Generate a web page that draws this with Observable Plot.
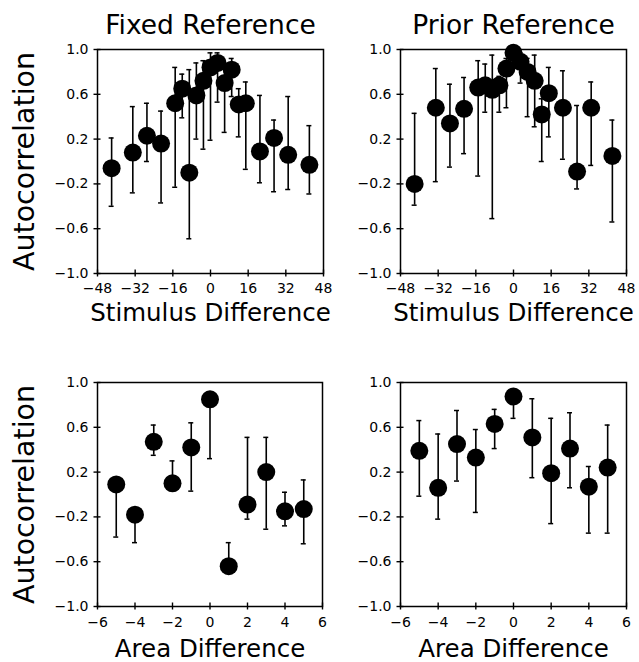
<!DOCTYPE html>
<html><head><meta charset="utf-8">
<script src="https://cdn.jsdelivr.net/npm/d3@7"></script>
<script src="https://cdn.jsdelivr.net/npm/@observablehq/plot@0.6"></script>
<style>
html,body{margin:0;padding:0;background:#fff;}
#root{position:relative;width:639px;height:662px;overflow:hidden;}
#root svg{position:absolute;max-width:none;background:transparent;}
</style></head><body><div id="root"></div>
<script>
// ---- data ----
const stimX = [-42,-33,-27,-21,-15,-12,-9,-6,-3,0,3,6,9,12,15,21,27,33,42];
const fixedStimR  = [-0.06,0.08,0.23,0.16,0.52,0.65,-0.10,0.59,0.72,0.84,0.88,0.70,0.82,0.51,0.52,0.09,0.21,0.06,-0.03];
const fixedStimHi = [0.21,0.49,0.52,0.45,0.84,0.78,0.82,0.88,0.90,0.97,0.97,0.86,0.92,0.65,0.71,0.59,0.37,0.58,0.32];
const fixedStimLo = [-0.40,-0.28,0.00,-0.37,-0.23,0.39,-0.69,0.20,0.11,0.19,0.53,0.26,0.58,0.22,-0.07,-0.19,-0.27,-0.25,-0.29];

const priorStimR  = [-0.20,0.48,0.34,0.47,0.66,0.68,0.64,0.68,0.83,0.97,0.89,0.80,0.72,0.42,0.61,0.48,-0.09,0.48,0.05];
const priorStimHi = [0.43,0.83,0.69,0.75,0.90,0.87,0.95,0.76,0.92,1.00,0.97,0.92,0.95,0.56,0.84,0.81,0.50,0.71,0.37];
const priorStimLo = [-0.39,-0.18,-0.05,0.07,-0.13,0.44,-0.51,0.44,0.48,0.85,0.70,0.40,0.31,0.00,0.22,0.02,-0.245,-0.035,-0.54];

const areaX = [-5,-4,-3,-2,-1,0,1,2,3,4,5];
const fixedAreaR  = [0.09,-0.18,0.47,0.10,0.42,0.85,-0.64,-0.09,0.20,-0.15,-0.13];
const fixedAreaHi = [0.12,-0.15,0.62,0.30,0.64,0.88,-0.43,0.51,0.51,0.02,0.13];
const fixedAreaLo = [-0.38,-0.43,0.35,0.08,0.03,0.32,-0.66,-0.22,-0.31,-0.28,-0.44];

const priorAreaR  = [0.39,0.06,0.45,0.33,0.63,0.875,0.51,0.19,0.41,0.07,0.24];
const priorAreaHi = [0.66,0.54,0.75,0.58,0.76,0.90,0.855,0.68,0.73,0.25,0.62];
const priorAreaLo = [-0.015,-0.22,0.12,-0.16,0.41,0.68,0.15,-0.26,0.06,-0.345,-0.345];

const stimTicks = [-48,-32,-16,0,16,32,48];
const areaTicks = [-6,-4,-2,0,2,4,6];
const rTicks = [-1.0,-0.6,-0.2,0.2,0.6,1.0];

const titles = ["Fixed Reference", "Prior Reference"];
const xLabels = ["Stimulus Difference", "Area Difference"];
const yLabel = "Autocorrelation";

// ---- drawing ----
const FONT = "DejaVu Sans";
function panel(o) {
  const data = o.xs.map((x, i) => ({x, r: o.r[i], hi: o.hi[i], lo: o.lo[i]}));
  const xd = [o.ticks[0], o.ticks[o.ticks.length - 1]];
  const marks = [
    Plot.ruleX(data, {x: "x", y1: "lo", y2: "hi", stroke: "black", strokeWidth: 1.6}),
    Plot.ruleY(data, {y: "hi", x1: "x", x2: "x", insetLeft: -2.5, insetRight: -2.5, stroke: "black", strokeWidth: 1.5}),
    Plot.ruleY(data, {y: "lo", x1: "x", x2: "x", insetLeft: -2.5, insetRight: -2.5, stroke: "black", strokeWidth: 1.5}),
    Plot.dot(data, {x: "x", y: "r", r: 9, fill: "black", stroke: "none"}),
    Plot.frame({stroke: "black", strokeWidth: 1.5}),
    Plot.ruleX(o.ticks, {x: d => d, y1: -1, y2: -1, insetTop: -3.5, insetBottom: -3.5, stroke: "black", strokeWidth: 1.4}),
    Plot.ruleY(rTicks, {y: d => d, x1: xd[0], x2: xd[0], insetLeft: -3.5, insetRight: -3.5, stroke: "black", strokeWidth: 1.4}),
    Plot.axisX(o.ticks, {label: null, tickSize: 0, tickPadding: o.xPad, fontSize: 14, tickFormat: d3.format("d")}),
    Plot.axisY(rTicks, {label: null, tickSize: 0, tickPadding: 9, fontSize: 14, tickFormat: d3.format(".1f")}),
    Plot.text([o.xLabel], {frameAnchor: "bottom", dy: o.xLabelDy, lineAnchor: "bottom", textAnchor: "middle", fontSize: 24.5, fill: "black"})
  ];
  if (o.title) marks.push(Plot.text([o.title], {frameAnchor: "top", dy: -16, lineAnchor: "bottom", textAnchor: "middle", fontSize: 26.5, fill: "black"}));
  if (o.yLab) marks.push(Plot.text([yLabel], {frameAnchor: "left", rotate: -90, dx: -64, lineAnchor: "bottom", textAnchor: "middle", fontSize: 28.5, fill: "black"}));
  const svg = Plot.plot({
    width: o.w, height: o.h,
    marginLeft: o.ml, marginRight: o.mr, marginTop: o.mt, marginBottom: o.mb,
    x: {domain: xd, axis: null},
    y: {domain: [-1, 1], axis: null},
    style: {fontFamily: FONT, fontSize: "14px", color: "black", background: "transparent", overflow: "visible"},
    marks
  });
  svg.style.left = o.left + "px";
  svg.style.top = o.top + "px";
  document.getElementById("root").appendChild(svg);
}

panel({xs: stimX, r: fixedStimR, hi: fixedStimHi, lo: fixedStimLo, ticks: stimTicks,
  title: titles[0], xLabel: xLabels[0], yLab: true,
  left: 0, top: 0, w: 330, h: 340, ml: 97, mr: 7, mt: 49, mb: 67, xPad: 10, xLabelDy: 47});
panel({xs: stimX, r: priorStimR, hi: priorStimHi, lo: priorStimLo, ticks: stimTicks,
  title: titles[1], xLabel: xLabels[0], yLab: false,
  left: 320, top: 0, w: 319, h: 340, ml: 80, mr: 13, mt: 49, mb: 67, xPad: 10, xLabelDy: 47});
panel({xs: areaX, r: fixedAreaR, hi: fixedAreaHi, lo: fixedAreaLo, ticks: areaTicks,
  title: null, xLabel: xLabels[1], yLab: true,
  left: 0, top: 330, w: 330, h: 332, ml: 97, mr: 8, mt: 52, mb: 56, xPad: 11, xLabelDy: 50});
panel({xs: areaX, r: priorAreaR, hi: priorAreaHi, lo: priorAreaLo, ticks: areaTicks,
  title: null, xLabel: xLabels[1], yLab: false,
  left: 320, top: 330, w: 319, h: 332, ml: 80, mr: 13, mt: 52, mb: 56, xPad: 11, xLabelDy: 50});
</script></body></html>
